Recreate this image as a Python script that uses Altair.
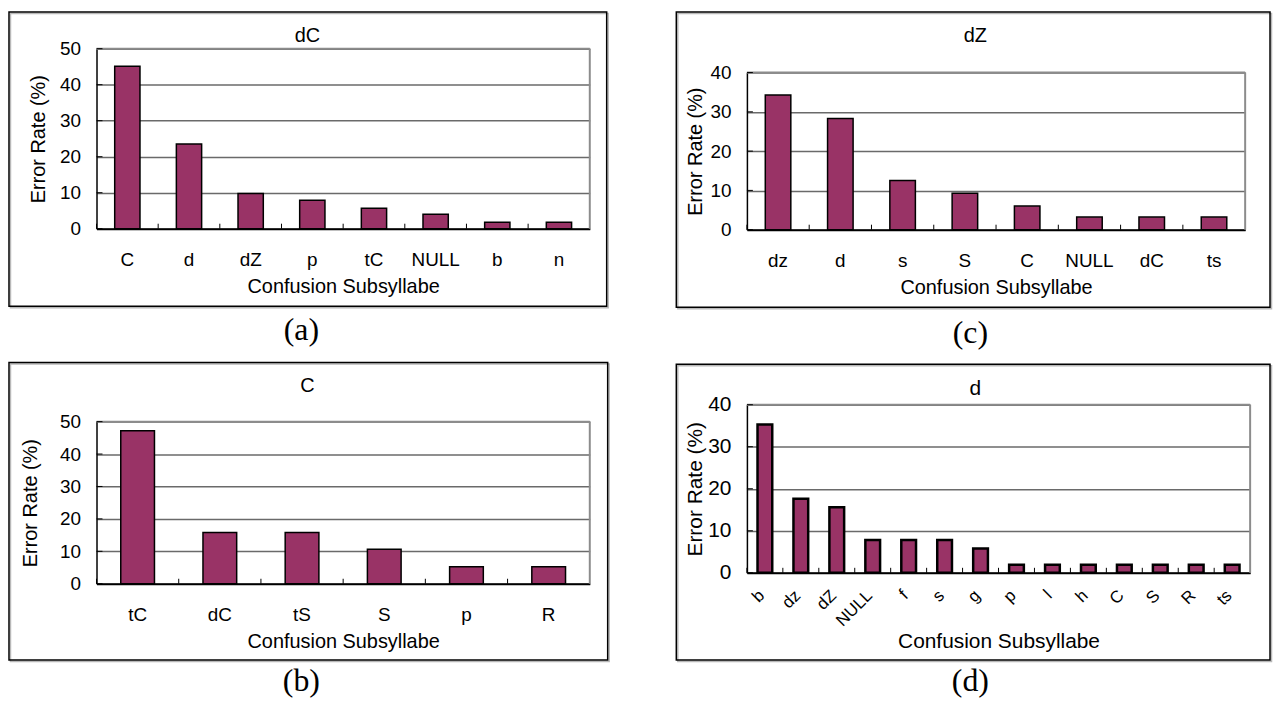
import altair as alt
import pandas as pd

FONT = "Liberation Sans"
SERIF = "Liberation Serif"
BAR = "#993366"
BORDER = "#8c8c8c"

# ---- data ----
a_cats = ["C", "d", "dZ", "p", "tC", "NULL", "b", "n"]
a_vals = [45.1, 23.5, 9.8, 7.9, 5.7, 4.0, 1.8, 1.8]

b_cats = ["tC", "dC", "tS", "S", "p", "R"]
b_vals = [47.2, 15.8, 15.8, 10.6, 5.2, 5.2]

c_cats = ["dz", "d", "s", "S", "C", "NULL", "dC", "ts"]
c_vals = [34.3, 28.3, 12.5, 9.3, 6.0, 3.2, 3.2, 3.2]

d_cats = ["b", "dz", "dZ", "NULL", "f", "s", "g", "p", "l", "h", "C", "S", "R", "ts"]
d_vals = [35.3, 17.6, 15.6, 7.8, 7.8, 7.8, 5.8, 1.9, 1.9, 1.9, 1.9, 1.9, 1.9, 1.9]

a_ticks = [0, 10, 20, 30, 40, 50]
b_ticks = [0, 10, 20, 30, 40, 50]
c_ticks = [0, 10, 20, 30, 40]
d_ticks = [0, 10, 20, 30, 40]


def panel(cats, vals, ticks, title, caption, w, h, top, frame, title_xy, cap_xy,
          ytitle_x, xlab_base, xtitle_base, bar_stroke=1.5, rotate=False,
          lab_fs=19, ylab_fs=19, ttl_fs=20):
    df = pd.DataFrame({"cat": cats, "val": vals})
    tdf = pd.DataFrame({"val": ticks})
    bdf = pd.DataFrame({"val": [ticks[-1]], "v0": [ticks[0]]})
    one = pd.DataFrame({"k": [0]})

    common_x = dict(labelFontSize=lab_fs, labelFont=FONT, labelColor="black",
                    ticks=False, tickSize=0, grid=False, domainColor="black",
                    domainWidth=2, titleFontSize=ttl_fs, titleFont=FONT,
                    titleFontWeight="normal", titleColor="black",
                    titleX=w / 2, titleY=xtitle_base, titleBaseline="alphabetic",
                    titleAlign="center")
    if rotate:
        xaxis = alt.Axis(labelAngle=315, labelAlign="right", labelBaseline="middle",
                         labelPadding=xlab_base, labelOffset=-3, **common_x)
    else:
        xaxis = alt.Axis(labelAngle=0, labelBaseline="alphabetic",
                         labelPadding=xlab_base, **common_x)
    yaxis = alt.Axis(values=ticks, labelPadding=16, labelFontSize=ylab_fs, labelFont=FONT,
                     labelColor="black", ticks=False, tickSize=0, grid=True,
                     gridColor="#6a6a6a", gridWidth=1.5, domainColor="black", domainWidth=1.5,
                     titleFontSize=ttl_fs, titleFont=FONT, titleFontWeight="normal",
                     titleColor="black", titleAngle=270, titleX=ytitle_x,
                     titleY=(h + top) / 2,
                     titleBaseline="alphabetic", titleAlign="center")
    xs = alt.Scale(paddingInner=0, paddingOuter=0)
    ys = alt.Scale(domain=[ticks[0], ticks[-1]], range=[h, top], nice=False, zero=True)

    def X(**kw):
        return alt.X("cat:N", sort=cats, scale=xs, axis=xaxis,
                     title="Confusion Subsyllabe", **kw)

    def Y(field="val"):
        return alt.Y(f"{field}:Q", scale=ys, axis=yaxis, title="Error Rate (%)")

    fx1, fx2, fy1, fy2 = frame
    shadow = alt.Chart(one).mark_rect(filled=False, color="#b8b8b8", strokeWidth=1.5).encode(
        x=alt.value(fx1 + 1.5), x2=alt.value(fx2 + 1.5), y=alt.value(fy1 + 1.5),
        y2=alt.value(fy2 + 1.5))
    frame_l = alt.Chart(one).mark_rect(filled=False, color="black", strokeWidth=1.5).encode(
        x=alt.value(fx1), x2=alt.value(fx2), y=alt.value(fy1), y2=alt.value(fy2))
    # plot-area border (top and right, grey)
    top_b = alt.Chart(bdf).mark_rule(color=BORDER, strokeWidth=2).encode(
        y=Y(), x=alt.value(0), x2=alt.value(w))
    right_b = alt.Chart(bdf).mark_rule(color=BORDER, strokeWidth=2).encode(
        y=Y(), y2="v0:Q", x=alt.value(w))
    bars = alt.Chart(df).mark_bar(color=BAR, stroke="black", strokeWidth=bar_stroke,
                                  width=alt.RelativeBandSize(0.41)).encode(x=X(), y=Y())
    xt = alt.Chart(df).mark_rule(color="black", strokeWidth=1).encode(
        x=X(bandPosition=0), y=alt.value(h - 5), y2=alt.value(h))
    yt = alt.Chart(tdf).mark_rule(color="black", strokeWidth=1).encode(
        y=Y(), x=alt.value(0), x2=alt.value(6))
    ttl = alt.Chart(one).mark_text(text=title, font=FONT, fontSize=ttl_fs, color="black",
                                   baseline="alphabetic", align="center").encode(
        x=alt.value(title_xy[0]), y=alt.value(title_xy[1]))
    cap = alt.Chart(one).mark_text(text=caption, font=SERIF, fontSize=32, color="black",
                                   baseline="alphabetic", align="center").encode(
        x=alt.value(cap_xy[0]), y=alt.value(cap_xy[1]))
    return alt.layer(shadow, frame_l, top_b, right_b, bars, xt, yt, ttl, cap).properties(
        width=w, height=h)


# column origins ~ (96, 749), row origins ~ (47, 405.7) in page pixels
pa = panel(a_cats, a_vals, a_ticks, "dC", "(a)", 496, 181, 0,
           (-88, 513, -37, 259), (212, -7), (206, 293), -52.3, 37, 64.6)
pc = panel(c_cats, c_vals, c_ticks, "dZ", "(c)", 501, 182, 24,
           (-71, 526, -37, 260), (229.6, -7), (224.7, 296), -45.8, 36.7, 64.3)
pb = panel(b_cats, b_vals, b_ticks, "C", "(b)", 496, 180, 17,
           (-88, 514, -42.4, 256.6), (212, -12.4), (206, 287.6), -60.1, 36.6, 64.3)
pd_ = panel(d_cats, d_vals, d_ticks, "d", "(d)", 506, 169, 0,
            (-71, 526, -40.7, 256.6), (229.6, -9.7), (224.7, 287.6), -45.8, 20, 75.3,
            bar_stroke=2.5, rotate=True, lab_fs=17, ylab_fs=21, ttl_fs=21)

top = alt.concat(pa, pc, columns=2, spacing=66)
bottom = alt.concat(pb, pd_, columns=2, spacing=65)
chart = alt.vconcat(top, bottom, spacing=12).properties(
    padding={"left": 0, "top": 1, "right": 0, "bottom": 0}
).configure_view(stroke=None)

chart.save("out.html", embed_options={"renderer": "svg", "actions": False})
